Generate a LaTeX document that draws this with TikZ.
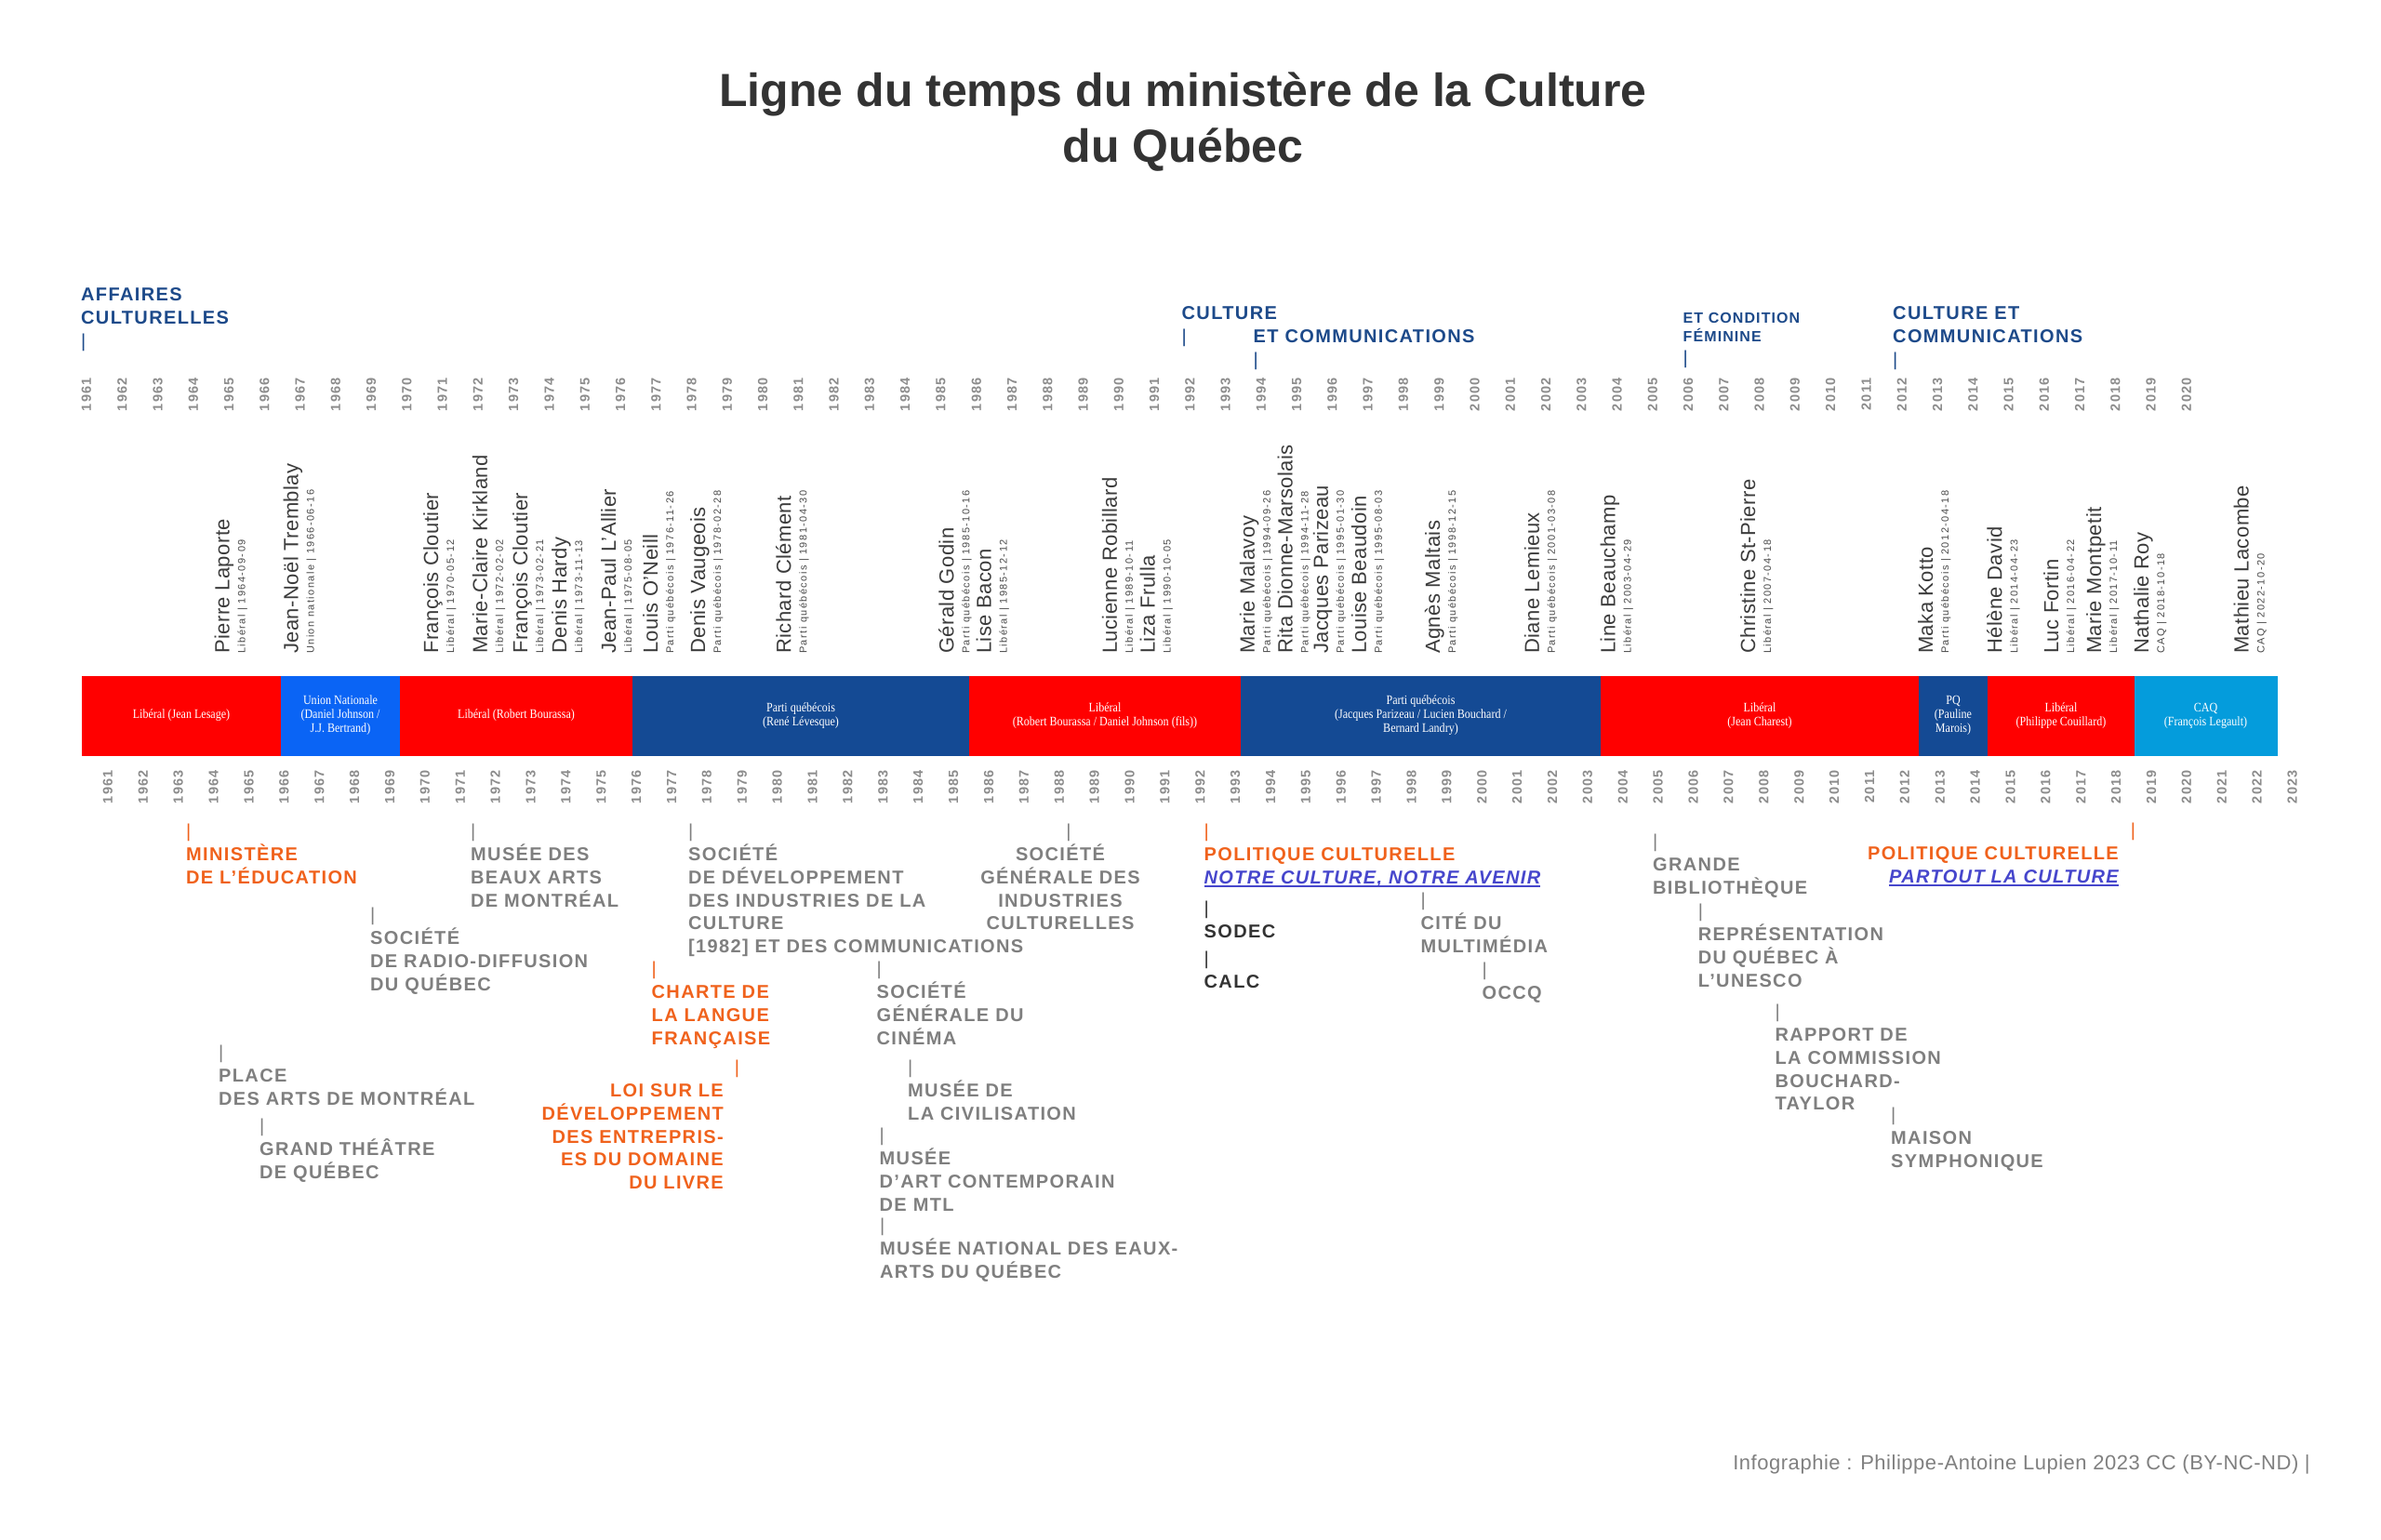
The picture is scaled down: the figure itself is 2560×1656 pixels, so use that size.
\documentclass[tikz,border=0pt]{standalone}
\usepackage{fontspec}
\setmainfont{Liberation Sans}
\newfontfamily\evfont[LetterSpace=6.8]{Liberation Sans}
\newfontfamily\nmfont[LetterSpace=2]{Liberation Sans}
\newfontfamily\sbfont[LetterSpace=13]{Liberation Sans}
\newfontfamily\yrfont[LetterSpace=9]{Liberation Sans}
\newfontfamily\crfont[LetterSpace=2.4]{Liberation Sans}
\newfontfamily\barfont[FakeStretch=0.86]{Liberation Serif}
\newfontfamily\ttlfont{Liberation Sans}
\definecolor{ttl}{HTML}{333333}
\definecolor{topblue}{HTML}{1D4A8A}
\definecolor{yrgray}{HTML}{8C8C8C}
\definecolor{nmgray}{HTML}{3C3C3C}
\definecolor{sbgray}{HTML}{4A4A4A}
\definecolor{libred}{HTML}{FF0000}
\definecolor{unblue}{HTML}{0A64F5}
\definecolor{pqblue}{HTML}{144A94}
\definecolor{caqblue}{HTML}{049CDC}
\definecolor{evgray}{HTML}{7F7F7F}
\definecolor{evorange}{HTML}{F0621C}
\definecolor{evdark}{HTML}{333333}
\definecolor{lnk}{HTML}{4646CC}
\definecolor{crgray}{HTML}{808080}
\newcommand\tk{{\mdseries|}}
\newcommand\ulk[1]{\setbox0=\hbox{#1}\rlap{\rule[-3.5pt]{\wd0}{1.6pt}}\box0}
\newcommand\mn[4]{\node[mn] (#1) at (#2,703) {{\color{nmgray}\nmfont\fontsize{22}{17}\selectfont #3}\\#4};}
\begin{document}
\begin{tikzpicture}[x=1pt,y=-1pt,
  yr/.style={rotate=90, inner sep=0, text=yrgray, font=\yrfont\bfseries\fontsize{14.5}{15}\selectfont},
  mn/.style={rotate=90, anchor=north west, inner sep=0, align=left, text=sbgray, font=\sbfont\fontsize{11}{17}\selectfont},
  ev/.style={inner sep=0, anchor=north west, align=left, font=\evfont\bfseries\fontsize{20}{24.8}\selectfont},
  evg/.style={ev, text=evgray},
  evo/.style={ev, text=evorange},
  evd/.style={ev, text=evdark},
  lab/.style={ev, text=topblue},
  seg/.style={minimum height=85pt, inner sep=0, align=center, text=white, line width=0.6pt, font=\barfont\fontsize{14}{15}\selectfont}]
\useasboundingbox (0,0) rectangle (2560,1656);
\fill[white] (0,0) rectangle (2560,1656);
% title
\node[anchor=north, align=center, inner sep=0, text=ttl, font=\ttlfont\bfseries\fontsize{50}{60}\selectfont] (title) at (1272,78) {Ligne du temps du ministère de la Culture\\du Québec};
% top labels
\node[lab] (affaires) at (87,309.5) {AFFAIRES\\CULTURELLES\\\tk};
\node[lab] (culture) at (1270.5,329.5) {CULTURE\\\tk};
\node[lab] (etcomm) at (1347.5,354.5) {ET COMMUNICATIONS\\\tk};
\node[lab, font=\evfont\bfseries\fontsize{16}{20}\selectfont] (etcond) at (1809.5,336.5) {ET CONDITION\\FÉMININE\\[4pt]{\fontsize{20}{24}\selectfont\tk}};
\node[lab] (cultureet) at (2035,329.5) {CULTURE ET\\COMMUNICATIONS\\\tk};
% years
\foreach \k in {0,...,59}{\pgfmathtruncatemacro\yy{1961+\k}\node[yr] (t\yy) at ({93+\k*38.27},424) {\yy};}
\foreach \k in {0,...,62}{\pgfmathtruncatemacro\yy{1961+\k}\node[yr] (b\yy) at ({116+\k*37.88},846) {\yy};}
% ministers
\mn{mLaporte}{230.6}{Pierre Laporte}{Libéral | 1964-09-09}
\mn{mTremblay}{304.6}{Jean-Noël Tremblay}{Union nationale | 1966-06-16}
\mn{mCloutierA}{455}{François Cloutier}{Libéral | 1970-05-12}
\mn{mKirkland}{507.7}{Marie-Claire Kirkland}{Libéral | 1972-02-02}
\mn{mCloutierB}{551}{François Cloutier}{Libéral | 1973-02-21}
\mn{mHardy}{593}{Denis Hardy}{Libéral | 1973-11-13}
\mn{mLAllier}{646}{Jean-Paul L’Allier}{Libéral | 1975-08-05}
\mn{mONeill}{691}{Louis O’Neill}{Parti québécois | 1976-11-26}
\mn{mVaugeois}{742}{Denis Vaugeois}{Parti québécois | 1978-02-28}
\mn{mClement}{834}{Richard Clément}{Parti québécois | 1981-04-30}
\mn{mGodin}{1009}{Gérald Godin}{Parti québécois | 1985-10-16}
\mn{mBacon}{1049.5}{Lise Bacon}{Libéral | 1985-12-12}
\mn{mRobillard}{1184.7}{Lucienne Robillard}{Libéral | 1989-10-11}
\mn{mFrulla}{1225.5}{Liza Frulla}{Libéral | 1990-10-05}
\mn{mMalavoy}{1332.6}{Marie Malavoy}{Parti québécois | 1994-09-26}
\mn{mDionne}{1373.5}{Rita Dionne-Marsolais}{Parti québécois | 1994-11-28}
\mn{mParizeau}{1411.7}{Jacques Parizeau}{Parti québécois | 1995-01-30}
\mn{mBeaudoin}{1452.6}{Louise Beaudoin}{Parti québécois | 1995-08-03}
\mn{mMaltais}{1531.6}{Agnès Maltais}{Parti québécois | 1998-12-15}
\mn{mLemieux}{1638.8}{Diane Lemieux}{Parti québécois | 2001-03-08}
\mn{mBeauchamp}{1720.4}{Line Beauchamp}{Libéral | 2003-04-29}
\mn{mStPierre}{1871}{Christine St-Pierre}{Libéral | 2007-04-18}
\mn{mKotto}{2062}{Maka Kotto}{Parti québécois | 2012-04-18}
\mn{mDavid}{2136}{Hélène David}{Libéral | 2014-04-23}
\mn{mFortin}{2197}{Luc Fortin}{Libéral | 2016-04-22}
\mn{mMontpetit}{2243}{Marie Montpetit}{Libéral | 2017-10-11}
\mn{mRoy}{2294}{Nathalie Roy}{CAQ | 2018-10-18}
\mn{mLacombe}{2401.5}{Mathieu Lacombe}{CAQ | 2022-10-20}
% government bar
\node[seg, fill=libred, draw=libred, minimum width=214pt] (s1) at (195,769.5) {Libéral (Jean Lesage)};
\node[seg, fill=unblue, draw=unblue, minimum width=128pt] (s2) at (366,769.5) {Union Nationale\\(Daniel Johnson /\\J.J. Bertrand)};
\node[seg, fill=libred, draw=libred, minimum width=250pt] (s3) at (555,769.5) {Libéral (Robert Bourassa)};
\node[seg, fill=pqblue, draw=pqblue, minimum width=362pt] (s4) at (861,769.5) {Parti québécois\\(René Lévesque)};
\node[seg, fill=libred, draw=libred, minimum width=292pt] (s5) at (1188,769.5) {Libéral\\(Robert Bourassa / Daniel Johnson (fils))};
\node[seg, fill=pqblue, draw=pqblue, minimum width=387pt] (s6) at (1527.5,769.5) {Parti québécois\\(Jacques Parizeau / Lucien Bouchard /\\Bernard Landry)};
\node[seg, fill=libred, draw=libred, minimum width=342pt] (s7) at (1892,769.5) {Libéral\\(Jean Charest)};
\node[seg, fill=pqblue, draw=pqblue, minimum width=74pt] (s8) at (2100,769.5) {PQ\\(Pauline\\Marois)};
\node[seg, fill=libred, draw=libred, minimum width=158pt] (s9) at (2216,769.5) {Libéral\\(Philippe Couillard)};
\node[seg, fill=caqblue, draw=caqblue, minimum width=153pt] (s10) at (2371.5,769.5) {CAQ\\(François Legault)};
% events
\node[evo] (ministere) at (200,886) {\tk\\MINISTÈRE\\DE L’ÉDUCATION};
\node[evg] (mbam) at (506,886) {\tk\\MUSÉE DES\\BEAUX ARTS\\DE MONTRÉAL};
\node[evg] (radio) at (398,976) {\tk\\SOCIÉTÉ\\DE RADIO-DIFFUSION\\DU QUÉBEC};
\node[evg] (sodicc) at (740,886) {\tk\\SOCIÉTÉ\\DE DÉVELOPPEMENT\\DES INDUSTRIES DE LA\\CULTURE\\{[1982]} ET DES COMMUNICATIONS};
\node[evg, anchor=north, align=center] (sogic) at (1140,886) {\hspace*{18pt}\tk\\SOCIÉTÉ\\GÉNÉRALE DES\\INDUSTRIES\\CULTURELLES};
\node[evo] (charte) at (700.5,1034) {\tk\\CHARTE DE\\LA LANGUE\\FRANÇAISE};
\node[evg] (sgc) at (942.5,1034) {\tk\\SOCIÉTÉ\\GÉNÉRALE DU\\CINÉMA};
\node[evg] (pda) at (235,1124) {\tk\\PLACE\\DES ARTS DE MONTRÉAL};
\node[evo, anchor=north east, align=right] (loi) at (778,1140) {\rlap{\hspace{12pt}\tk}\\LOI SUR LE\\DÉVELOPPEMENT\\DES ENTREPRIS-\\ES DU DOMAINE\\DU LIVRE};
\node[evg] (gtq) at (279,1203) {\tk\\GRAND THÉÂTRE\\DE QUÉBEC};
\node[evg] (mcq) at (976,1140) {\tk\\MUSÉE DE\\LA CIVILISATION};
\node[evg] (mac) at (945.5,1213) {\tk\\MUSÉE\\D’ART CONTEMPORAIN\\DE MTL};
\node[evg] (mnbaq) at (946,1310) {\tk\\MUSÉE NATIONAL DES EAUX-\\ARTS DU QUÉBEC};
\node[evo] (pc1) at (1294.5,886) {\tk\\POLITIQUE CULTURELLE\\\textcolor{lnk}{\itshape\ulk{NOTRE CULTURE, NOTRE AVENIR}}};
\node[evd] (sodec) at (1294.5,969) {\tk\\SODEC};
\node[evd] (calc) at (1294.5,1023) {\tk\\CALC};
\node[evg] (cite) at (1527.5,960) {\tk\\CITÉ DU\\MULTIMÉDIA};
\node[evg] (occq) at (1593.4,1035) {\tk\\OCCQ};
\node[evg] (gb) at (1777,897) {\tk\\GRANDE\\BIBLIOTHÈQUE};
\node[evo, anchor=north east, align=right] (pc2) at (2278,885) {\rlap{\hspace{13pt}\tk}\\POLITIQUE CULTURELLE\\\textcolor{lnk}{\itshape\ulk{PARTOUT LA CULTURE}}};
\node[evg] (unesco) at (1825.6,972) {\tk\\REPRÉSENTATION\\DU QUÉBEC À\\L’UNESCO};
\node[evg] (btaylor) at (1908.4,1080) {\tk\\RAPPORT DE\\LA COMMISSION\\BOUCHARD-\\TAYLOR};
\node[evg] (maison) at (2033,1191) {\tk\\MAISON\\SYMPHONIQUE};
% credit
\node[anchor=base east, inner sep=0, text=crgray, font=\crfont\fontsize{22}{26}\selectfont] (credit) at (2484,1580) {Infographie : Philippe-Antoine Lupien 2023 CC (BY-NC-ND) |};
\end{tikzpicture}
\end{document}
